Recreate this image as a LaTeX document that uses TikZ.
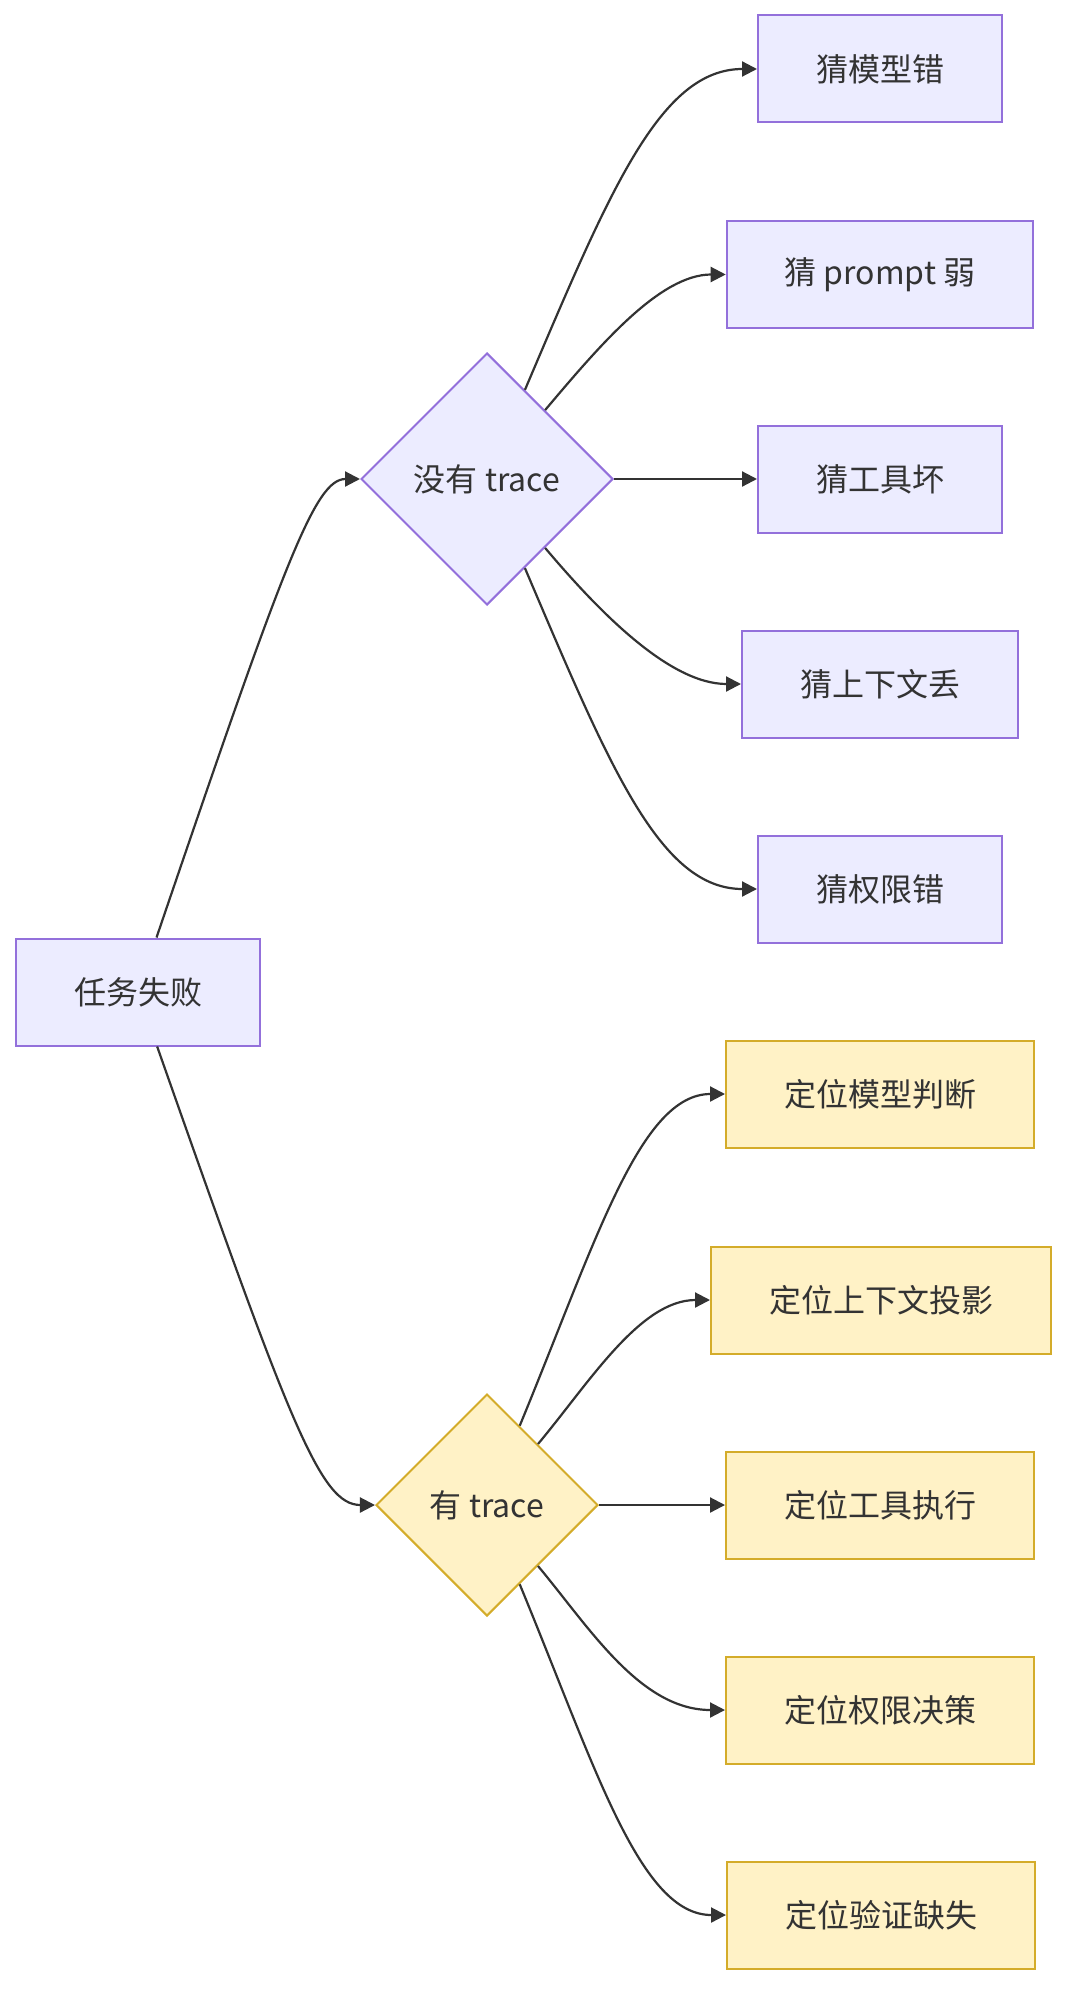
\documentclass[tikz,border=0pt]{standalone}
\usepackage{fontspec}
\setmainfont{Noto Sans CJK SC}
\usetikzlibrary{shapes.geometric, arrows.meta}
\definecolor{guessfill}{HTML}{ECECFF}
\definecolor{guessline}{HTML}{9370DB}
\definecolor{findfill}{HTML}{FFF2C6}
\definecolor{findline}{HTML}{D4AC2A}
\definecolor{ink}{HTML}{333333}
\begin{document}
\begin{tikzpicture}[x = 0.5pt, y = -0.5pt, font=\fontsize{16pt}{19pt}\selectfont, text=ink,
        guessbox/.style={rectangle, draw=guessline, fill=guessfill, line width=1pt, minimum height=53.5pt, inner xsep=29pt},
        findbox/.style={rectangle, draw=findline, fill=findfill, line width=1pt, minimum height=53.5pt, inner xsep=29pt},
        choice/.style={diamond, aspect=1, line width=1pt, inner sep=0pt},
        link/.style={draw=ink, line width=1.1pt, -{Triangle[length=7.5pt, width=7.5pt]}}]

        \useasboundingbox (0, 0) rectangle (1082, 2012);

        \node[guessbox] at (138, 992) (fail) {任务失败};
        \node[choice, draw=guessline, fill=guessfill, minimum size=126pt] at (487, 479) (notrace) {没有 trace};
        \node[choice, draw=findline, fill=findfill, minimum size=111pt] at (487, 1505) (hastrace) {有 trace};

        \node[guessbox] at (880, 69) (g1) {猜模型错};
        \node[guessbox] at (880, 274.5) (g2) {猜 prompt 弱};
        \node[guessbox] at (880, 479) (g3) {猜工具坏};
        \node[guessbox] at (880, 684) (g4) {猜上下文丢};
        \node[guessbox] at (880, 889) (g5) {猜权限错};

        \node[findbox] at (880, 1094) (f1) {定位模型判断};
        \node[findbox] at (881, 1300) (f2) {定位上下文投影};
        \node[findbox] at (880, 1505) (f3) {定位工具执行};
        \node[findbox] at (880, 1710) (f4) {定位权限决策};
        \node[findbox] at (881, 1915) (f5) {定位验证缺失};

        \draw[link] (fail) .. controls (285, 560) and (315, 479) .. (notrace);
        \draw[link] (fail) .. controls (290, 1424) and (320, 1505) .. (hastrace);

        \draw[link] (notrace) .. controls (610, 190) and (660, 69) .. (g1);
        \draw[link] (notrace) .. controls (600, 345) and (660, 274.5) .. (g2);
        \draw[link] (notrace) -- (g3);
        \draw[link] (notrace) .. controls (600, 613) and (670, 684) .. (g4);
        \draw[link] (notrace) .. controls (610, 768) and (660, 889) .. (g5);

        \draw[link] (hastrace) .. controls (596, 1241) and (640, 1094) .. (f1);
        \draw[link] (hastrace) .. controls (589, 1383) and (640, 1300) .. (f2);
        \draw[link] (hastrace) -- (f3);
        \draw[link] (hastrace) .. controls (589, 1627) and (640, 1710) .. (f4);
        \draw[link] (hastrace) .. controls (596, 1769) and (640, 1915) .. (f5);
        \end{tikzpicture}
\end{document}
